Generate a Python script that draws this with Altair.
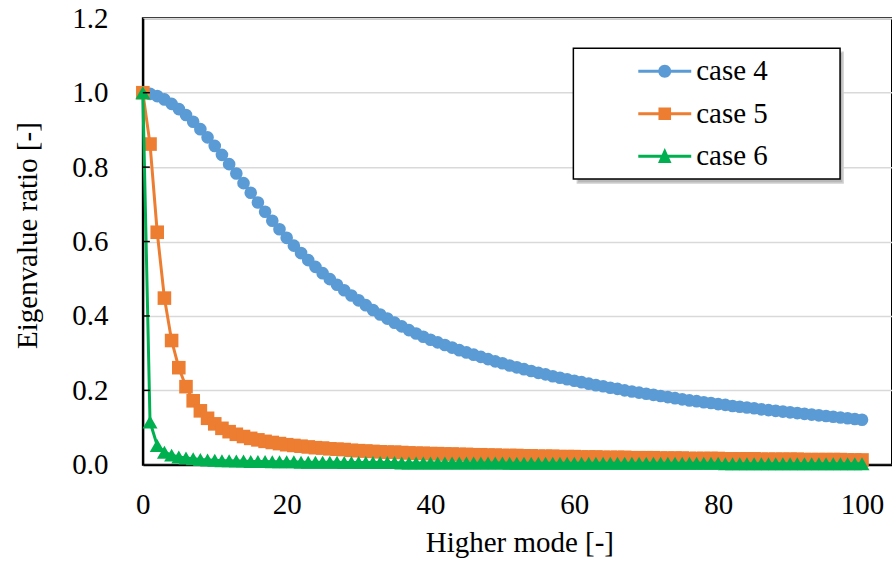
import altair as alt
import pandas as pd

# ---------------- data ----------------
mode = list(range(0, 101))

case4 = [
    1.000, 0.997, 0.991, 0.982, 0.970, 0.956, 0.940, 0.922, 0.902, 0.880,
    0.857, 0.833, 0.808, 0.783, 0.757, 0.731, 0.705, 0.680, 0.656, 0.633,
    0.610, 0.589, 0.569, 0.550, 0.532, 0.515, 0.499, 0.484, 0.469, 0.455,
    0.442, 0.429, 0.416, 0.404, 0.393, 0.382, 0.372, 0.362, 0.353, 0.344,
    0.336, 0.329, 0.322, 0.315, 0.308, 0.302, 0.296, 0.290, 0.284, 0.278,
    0.273, 0.267, 0.262, 0.257, 0.252, 0.247, 0.243, 0.238, 0.234, 0.230,
    0.226, 0.222, 0.218, 0.214, 0.211, 0.207, 0.204, 0.200, 0.197, 0.194,
    0.191, 0.188, 0.185, 0.182, 0.179, 0.176, 0.173, 0.171, 0.168, 0.166,
    0.163, 0.161, 0.158, 0.156, 0.154, 0.152, 0.149, 0.147, 0.145, 0.143,
    0.141, 0.139, 0.137, 0.135, 0.133, 0.131, 0.129, 0.127, 0.125, 0.123,
    0.121,
]

case5 = [
    1.000, 0.862, 0.625, 0.448, 0.334, 0.261, 0.210, 0.172, 0.145, 0.125,
    0.110, 0.098, 0.089, 0.082, 0.076, 0.071, 0.067, 0.063, 0.060, 0.057,
    0.054, 0.052, 0.050, 0.048, 0.046, 0.045, 0.043, 0.042, 0.041, 0.039,
    0.038, 0.037, 0.036, 0.035, 0.034, 0.034, 0.033, 0.032, 0.031, 0.031,
    0.030, 0.030, 0.029, 0.029, 0.028, 0.028, 0.027, 0.027, 0.026, 0.026,
    0.025, 0.025, 0.025, 0.024, 0.024, 0.023, 0.023, 0.023, 0.022, 0.022,
    0.022, 0.021, 0.021, 0.021, 0.020, 0.020, 0.020, 0.020, 0.019, 0.019,
    0.019, 0.019, 0.018, 0.018, 0.018, 0.018, 0.017, 0.017, 0.017, 0.017,
    0.017, 0.016, 0.016, 0.016, 0.016, 0.016, 0.015, 0.015, 0.015, 0.015,
    0.015, 0.015, 0.014, 0.014, 0.014, 0.014, 0.014, 0.014, 0.013, 0.013,
    0.013,
]

case6 = [
    1.000, 0.115, 0.052, 0.034, 0.026, 0.021, 0.018, 0.016, 0.014, 0.013,
    0.012, 0.011, 0.011, 0.010, 0.010, 0.009, 0.009, 0.009, 0.008, 0.008,
    0.008, 0.008, 0.007, 0.007, 0.007, 0.007, 0.007, 0.007, 0.006, 0.006,
    0.006, 0.006, 0.006, 0.006, 0.006, 0.006, 0.005, 0.005, 0.005, 0.005,
    0.005, 0.005, 0.005, 0.005, 0.005, 0.005, 0.005, 0.005, 0.005, 0.005,
    0.005, 0.004, 0.004, 0.004, 0.004, 0.004, 0.004, 0.004, 0.004, 0.004,
    0.004, 0.004, 0.004, 0.004, 0.004, 0.004, 0.004, 0.004, 0.004, 0.004,
    0.004, 0.004, 0.004, 0.004, 0.004, 0.004, 0.004, 0.004, 0.004, 0.004,
    0.004, 0.003, 0.003, 0.003, 0.003, 0.003, 0.003, 0.003, 0.003, 0.003,
    0.003, 0.003, 0.003, 0.003, 0.003, 0.003, 0.003, 0.003, 0.003, 0.003,
    0.003,
]

series_names = ["case 4", "case 5", "case 6"]
colors = ["#5B9BD5", "#ED7D31", "#00B050"]
shapes = ["circle", "square", "triangle-up"]
marker_sizes = [160, 185, 225]
x_ticks = [0, 20, 40, 60, 80, 100]
y_ticks = [0.0, 0.2, 0.4, 0.6, 0.8, 1.0, 1.2]
y_inner_ticks = [0.2, 0.4, 0.6, 0.8, 1.0]

# legend symbols: a line segment with the marker in the middle
legend_paths = [
    "M-1.767,-0.1H1.767V0.1H-1.767Z M-0.433,0A0.433,0.433 0 1,1 0.433,0A0.433,0.433 0 1,1 -0.433,0Z",
    "M-1.767,-0.1H1.767V0.1H-1.767Z M-0.42,-0.42H0.42V0.42H-0.42Z",
    "M-1.767,-0.1H1.767V0.1H-1.767Z M0,-0.55L0.45,0.45L-0.45,0.45Z",
]
# keys for the shadow box drawn behind the legend (no visible entries)
shadow_keys = [s + "\u200b" for s in series_names]

rows = []
for name, vals in zip(series_names, [case4, case5, case6]):
    for m, v in zip(mode, vals):
        rows.append({"mode": m, "ratio": v, "series": name})
df = pd.DataFrame(rows)

FONT = "Liberation Serif"
FS = 29

x_scale = alt.Scale(domain=[0, 104.17], nice=False, zero=False)
y_scale = alt.Scale(domain=[0, 1.2], nice=False)

x_axis = alt.Axis(
    values=x_ticks, format="d", title="Higher mode [-]", grid=False,
    ticks=False, tickSize=0, labelPadding=26, labelFlush=False,
    titleX=377, titleY=87, titleBaseline="alphabetic", titleAlign="center",
)
y_axis = alt.Axis(
    values=y_ticks, format=".1f", title="Eigenvalue ratio [-]",
    grid=True, gridColor="#d9d9d9", gridWidth=1.5,
    ticks=False, tickSize=0, labelPadding=35, labelFlush=False,
    titleAngle=270, titleX=-106, titleY=217,
    titleBaseline="alphabetic", titleAlign="center",
)

base = alt.Chart(df)
enc_x = alt.X("mode:Q", scale=x_scale, axis=x_axis)
enc_y = alt.Y("ratio:Q", scale=y_scale, axis=y_axis)

layers = []
for i, name in enumerate(series_names):
    sub = base.transform_filter(alt.datum.series == name)
    layers.append(
        sub.mark_line(color=colors[i], strokeWidth=3).encode(x=enc_x, y=enc_y)
    )
    layers.append(
        sub.mark_point(
            shape=shapes[i], filled=True, color=colors[i],
            size=marker_sizes[i], opacity=1, strokeWidth=0,
        ).encode(x=enc_x, y=enc_y)
    )

# inward ticks on the y axis
tick_df = pd.DataFrame({"ratio": y_inner_ticks})
ticks_layer = alt.Chart(tick_df).mark_rule(color="black", strokeWidth=1.5).encode(
    y=enc_y,
    x=alt.value(0),
    x2=alt.value(7),
)

legend_props = dict(
    title="|", titleFont=FONT, titleFontSize=FS, titleColor="white",
    titleOrient="right", titlePadding=57,
    orient="none", legendX=431, legendY=30,
    padding=8, rowPadding=12.5, symbolSize=900,
    symbolOffset=68.5, labelOffset=16.5, symbolStrokeWidth=0,
    symbolOpacity=1, labelFont=FONT, labelFontSize=FS, labelColor="black",
    fillColor="white", strokeColor="black",
)
shadow_props = dict(
    title=None, orient="none", legendX=435, legendY=34,
    padding=8, rowPadding=12.5, symbolSize=900,
    symbolOffset=220, labelOffset=0, symbolStrokeWidth=0,
    symbolOpacity=0, labelFont=FONT, labelFontSize=FS,
    labelExpr="''",
    fillColor="#b8b8b8", strokeColor="#cfcfcf",
)

shadow_layer = base.transform_filter(alt.datum.mode < 0).transform_calculate(
    shadow="datum.series + '\u200b'"
).mark_point(filled=True, size=900).encode(
    opacity=alt.Opacity("shadow:N", scale=alt.Scale(domain=shadow_keys, range=[1, 1, 1]),
                        legend=alt.Legend(**shadow_props)),
)

legend_layer = base.transform_filter(alt.datum.mode < 0).mark_point(
    filled=True, opacity=1, size=900
).encode(
    color=alt.Color("series:N", scale=alt.Scale(domain=series_names, range=colors),
                    legend=alt.Legend(**legend_props)),
    shape=alt.Shape("series:N", scale=alt.Scale(domain=series_names, range=legend_paths),
                    legend=alt.Legend(**legend_props)),
)

chart = alt.layer(*layers, ticks_layer, shadow_layer, legend_layer).properties(
    width=750, height=447,
    autosize=alt.AutoSizeParams(type="none"),
    padding={"left": 143, "top": 18, "right": 0, "bottom": 98},
    background="white",
).configure(
    font=FONT,
).configure_view(
    stroke="black", strokeWidth=2,
).configure_axis(
    labelFont=FONT, labelFontSize=FS, labelColor="black",
    titleFont=FONT, titleFontSize=FS, titleColor="black", titleFontWeight="normal",
    domainColor="black", domainWidth=2,
).configure_legend(
    strokeWidth=1.5, labelFont=FONT, labelFontSize=FS,
)

chart.save("out.html", embed_options={"renderer": "svg", "actions": False})
